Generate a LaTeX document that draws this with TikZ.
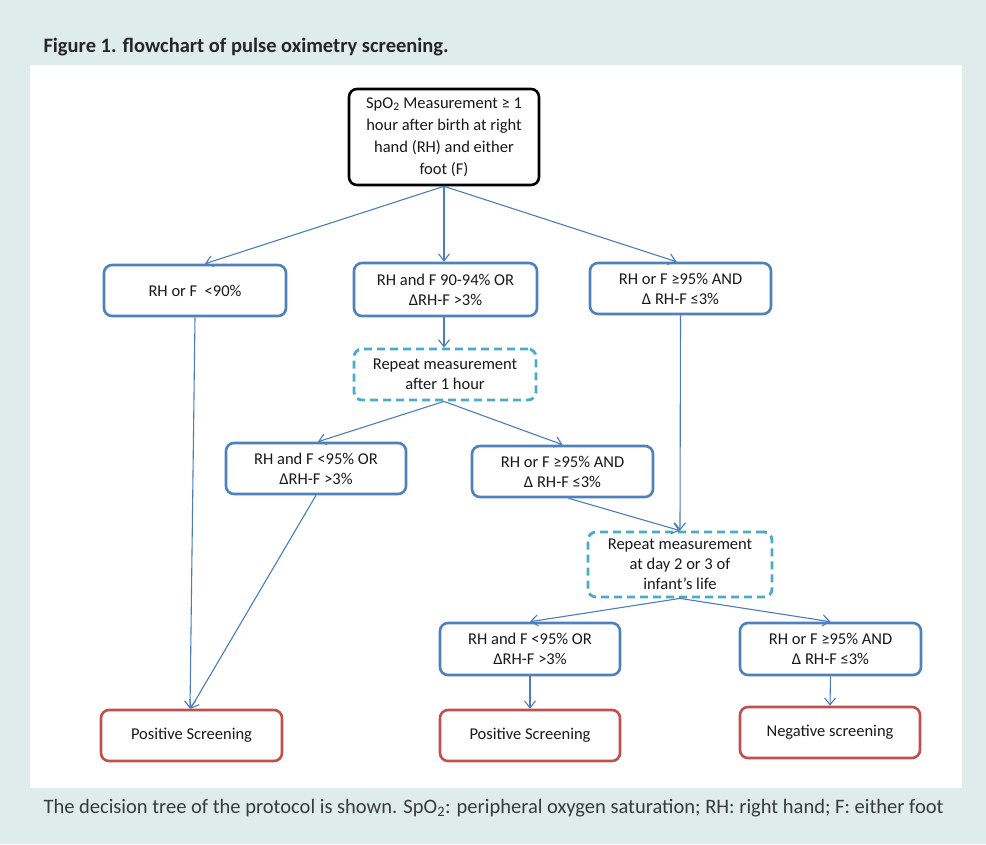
\documentclass[tikz,border=0pt]{standalone}
\usepackage{fontspec}
\setmainfont{Carlito}
\usetikzlibrary{arrows.meta}
\definecolor{bgteal}{HTML}{DFECEC}
\definecolor{boxblue}{HTML}{4F81BD}
\definecolor{lineblue}{HTML}{4A7EBB}
\definecolor{dashteal}{HTML}{4BACC6}
\definecolor{boxred}{HTML}{C0504D}
\definecolor{titlegray}{HTML}{262626}
\definecolor{captiongray}{HTML}{3A3A3A}
\tikzset{
  base/.style={rounded corners=8pt, align=center, inner sep=0pt, fill=white,
    font=\fontsize{16.5}{20}\selectfont, text=black!90},
  bluebox/.style={base, draw=boxblue, line width=2.6pt, minimum width=181pt, minimum height=52pt},
  dashbox/.style={base, draw=dashteal, line width=2.8pt, dash pattern=on 8pt off 5pt, minimum width=182pt, minimum height=51pt},
  redbox/.style={base, draw=boxred, line width=2.6pt, minimum width=181pt, minimum height=51pt},
  topbox/.style={base, draw=black, line width=2.6pt, minimum width=190pt, minimum height=96pt,
    font=\fontsize{16.5}{22}\selectfont},
  conn/.style={draw=lineblue, line width=1.1pt, -{Straight Barb[length=7pt,width=11pt]}}
}
\begin{document}
\begin{tikzpicture}[x=1pt,y=-1pt]
\useasboundingbox (0,0) rectangle (986,844);
\fill[bgteal] (0,0) rectangle (986,844);
\fill[white] (30,65) rectangle (962,788);

\node[anchor=west, font=\bfseries\fontsize{20.5}{24}\selectfont, text=titlegray] (title) at (40,47)
  {Figure 1. flowchart of pulse oximetry screening.};
\node[anchor=west, font=\fontsize{20.5}{24}\selectfont, text=captiongray] (caption) at (40,808)
  {The decision tree of the protocol is shown. SpO\textsubscript{2}: peripheral oxygen saturation; RH: right hand; F: either foot};

\node[topbox] (top) at (444,137) {SpO\textsubscript{2} Measurement ≥ 1\\hour after birth at right\\hand (RH) and either\\foot (F)};

\node[bluebox, minimum width=182pt, minimum height=51pt] (n1) at (195,290.5) {RH or F\ \ <90\%};
\node[bluebox, minimum width=183pt, minimum height=53pt] (n2) at (445.5,289.5) {RH and F 90-94\% OR\\ΔRH-F >3\%};
\node[bluebox, minimum height=51pt] (n3) at (680.5,288.5) {RH or F ≥95\% AND\\Δ RH-F ≤3\%};

\node[dashbox] (r1) at (445,374.5) {Repeat measurement\\after 1 hour};

\node[bluebox, minimum width=180pt, minimum height=51pt] (m1) at (316,468.5) {RH and F <95\% OR\\ΔRH-F >3\%};
\node[bluebox, minimum height=51pt] (m2) at (562.5,471.5) {RH or F ≥95\% AND\\Δ RH-F ≤3\%};

\node[dashbox, minimum width=184pt, minimum height=65pt] (r2) at (680,564.5) {Repeat measurement\\at day 2 or 3 of\\infant’s life};

\node[bluebox, minimum width=180pt] (b1) at (530,649) {RH and F <95\% OR\\ΔRH-F >3\%};
\node[bluebox] (b2) at (830.5,649) {RH or F ≥95\% AND\\Δ RH-F ≤3\%};

\node[redbox] (p1) at (191.5,735.5) {Positive Screening};
\node[redbox, minimum width=180pt] (p2) at (530,735.5) {Positive Screening};
\node[redbox, minimum width=180pt] (p3) at (830,732.5) {Negative screening};

\draw[conn] (top.south) -- ([xshift=10pt]n1.north);
\draw[conn] (top.south) -- (n2.north -| top.south);
\draw[conn] (top.south) -- ([xshift=-4pt]n3.north);
\draw[conn] (n1.south) -- ([xshift=-1.5pt]p1.north);
\draw[conn] (n2.south -| top.south) -- (r1.north -| top.south);
\draw[conn] (n3.south) -- (r2.north);
\draw[conn] (r1.south -| top.south) -- ([xshift=2pt]m1.north);
\draw[conn] (r1.south -| top.south) -- (m2.north);
\draw[conn] (m1.south) -- ([xshift=-1pt]p1.north);
\draw[conn] ([xshift=6pt]m2.south) -- (r2.north);
\draw[conn] (r2.south) -- (b1.north);
\draw[conn] (r2.south) -- (b2.north);
\draw[conn] (b1.south) -- (p2.north);
\draw[conn] (b2.south) -- (p3.north);
\end{tikzpicture}
\end{document}
